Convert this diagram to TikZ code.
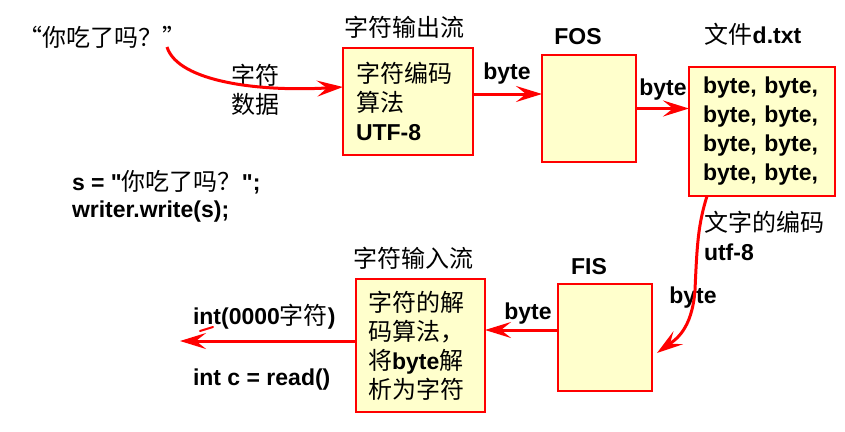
\documentclass[tikz,border=0pt]{standalone}
\usepackage{fontspec}
\setmainfont{Liberation Sans}[Ligatures=TeXOff]
\newfontfamily\cjkfont{Noto Sans CJK SC}
\usepackage{tikz}
\usetikzlibrary{arrows.meta}

\begin{document}
\begin{tikzpicture}[x=1pt,y=-1pt,line cap=rect,
	txt/.style={inner sep=0pt, outer sep=0pt, font=\fontsize{23}{29}\selectfont\bfseries},
	box/.style={txt, draw=custcol_ff_0_0, fill=custcol_ff_ff_cc, line width=2pt},
	emptybox/.style={box, minimum width=94pt, minimum height=107pt},
	flow/.style={draw=custcol_ff_0_0, line width=3pt, line cap=butt, -{Stealth[length=26pt,width=16pt,inset=10pt]}}]
					\def\zh#1{{\cjkfont\mdseries\fontsize{24}{29}\selectfont #1}}
					\definecolor{custcol_ff_0_0}{RGB}{255, 0, 0}
					\definecolor{custcol_ff_ff_cc}{RGB}{255, 255, 204}
					\useasboundingbox (0,0) rectangle (845,431);
					% writing side
					\node[txt, anchor=west] (quote) at (18,37) {\zh{“你吃了吗？”}};
					\node[txt, align=center] (lblchar) at (255,89.5) {\zh{字符}\\\zh{数据}};
					\node[box, text width=104pt, inner xsep=13pt, minimum height=107pt, align=left] (enc) at (408,101.5) {\zh{字符编码}\\\zh{算法}\\UTF-8};
					\node[txt] (enctitle) at (404,27) {\zh{字符输出流}};
					\node[emptybox] (fos) at (589,108.5) {};
					\node[txt] (fostitle) at (578,37) {FOS};
					\node[box, text width=118pt, inner xsep=14pt, minimum height=129pt, align=left] (file) at (762,131.5) {byte, byte,\\byte, byte,\\byte, byte,\\byte, byte,};
					\node[txt] (filetitle) at (753,34) {\zh{文件}d.txt};
					\node[txt] (byteA) at (507,74) {byte};
					\node[txt] (byteB) at (663,90) {byte};
					\node[txt, anchor=west, align=left, font=\fontsize{23}{27}\selectfont\bfseries] (code) at (72,196.5) {s = "\zh{你吃了吗？}";\\writer.write(s);};
					% reading side
					\node[txt, anchor=west, align=left] (enclbl) at (704,236) {\zh{文字的编码}\\utf-8};
					\node[txt] (byteC) at (693,298) {byte};
					\node[emptybox] (fis) at (605,337.5) {};
					\node[txt] (fistitle) at (589,267) {FIS};
					\node[txt] (byteD) at (528,314) {byte};
					\node[box, text width=105pt, inner xsep=12pt, minimum height=133pt, align=left] (dec) at (420.5,345.5) {\zh{字符的解}\\\zh{码算法，}\\\zh{将}byte\zh{解}\\\zh{析为字符}};
					\node[txt] (dectitle) at (413,258) {\zh{字符输入流}};
					\node[txt, anchor=west] (ret) at (193,317) {int(0000\zh{字符})};
					\node[txt, anchor=west] (call) at (193,380) {int c = read()};
					\coordinate (src) at (167,47);
					\coordinate (out) at (180,341);
					% connectors
					\draw[flow] (src) .. controls (178,82) and (260,92) .. ([yshift=14.5pt]enc.west);
					\draw[flow] ([yshift=7.5pt]enc.east) -- ([yshift=14.5pt]fos.west);
					\draw[flow] (fos.east) -- ([yshift=23pt]file.west);
					\draw[flow] ([xshift=-55pt]file.south) .. controls (698,225) and (697,245) .. (695,290) .. controls (692,330) and (675,340) .. ([xshift=5pt,yshift=-15.5pt]fis.east);
					\draw[flow] ([yshift=7.5pt]fis.west) -- ([yshift=15.5pt]dec.east);
					\draw[flow] ([yshift=4.5pt]dec.west) -- (out);
					\draw [line width=2.0pt, custcol_ff_0_0, line cap=round] (200,331) -- (213,327);
\end{tikzpicture}
\end{document}
